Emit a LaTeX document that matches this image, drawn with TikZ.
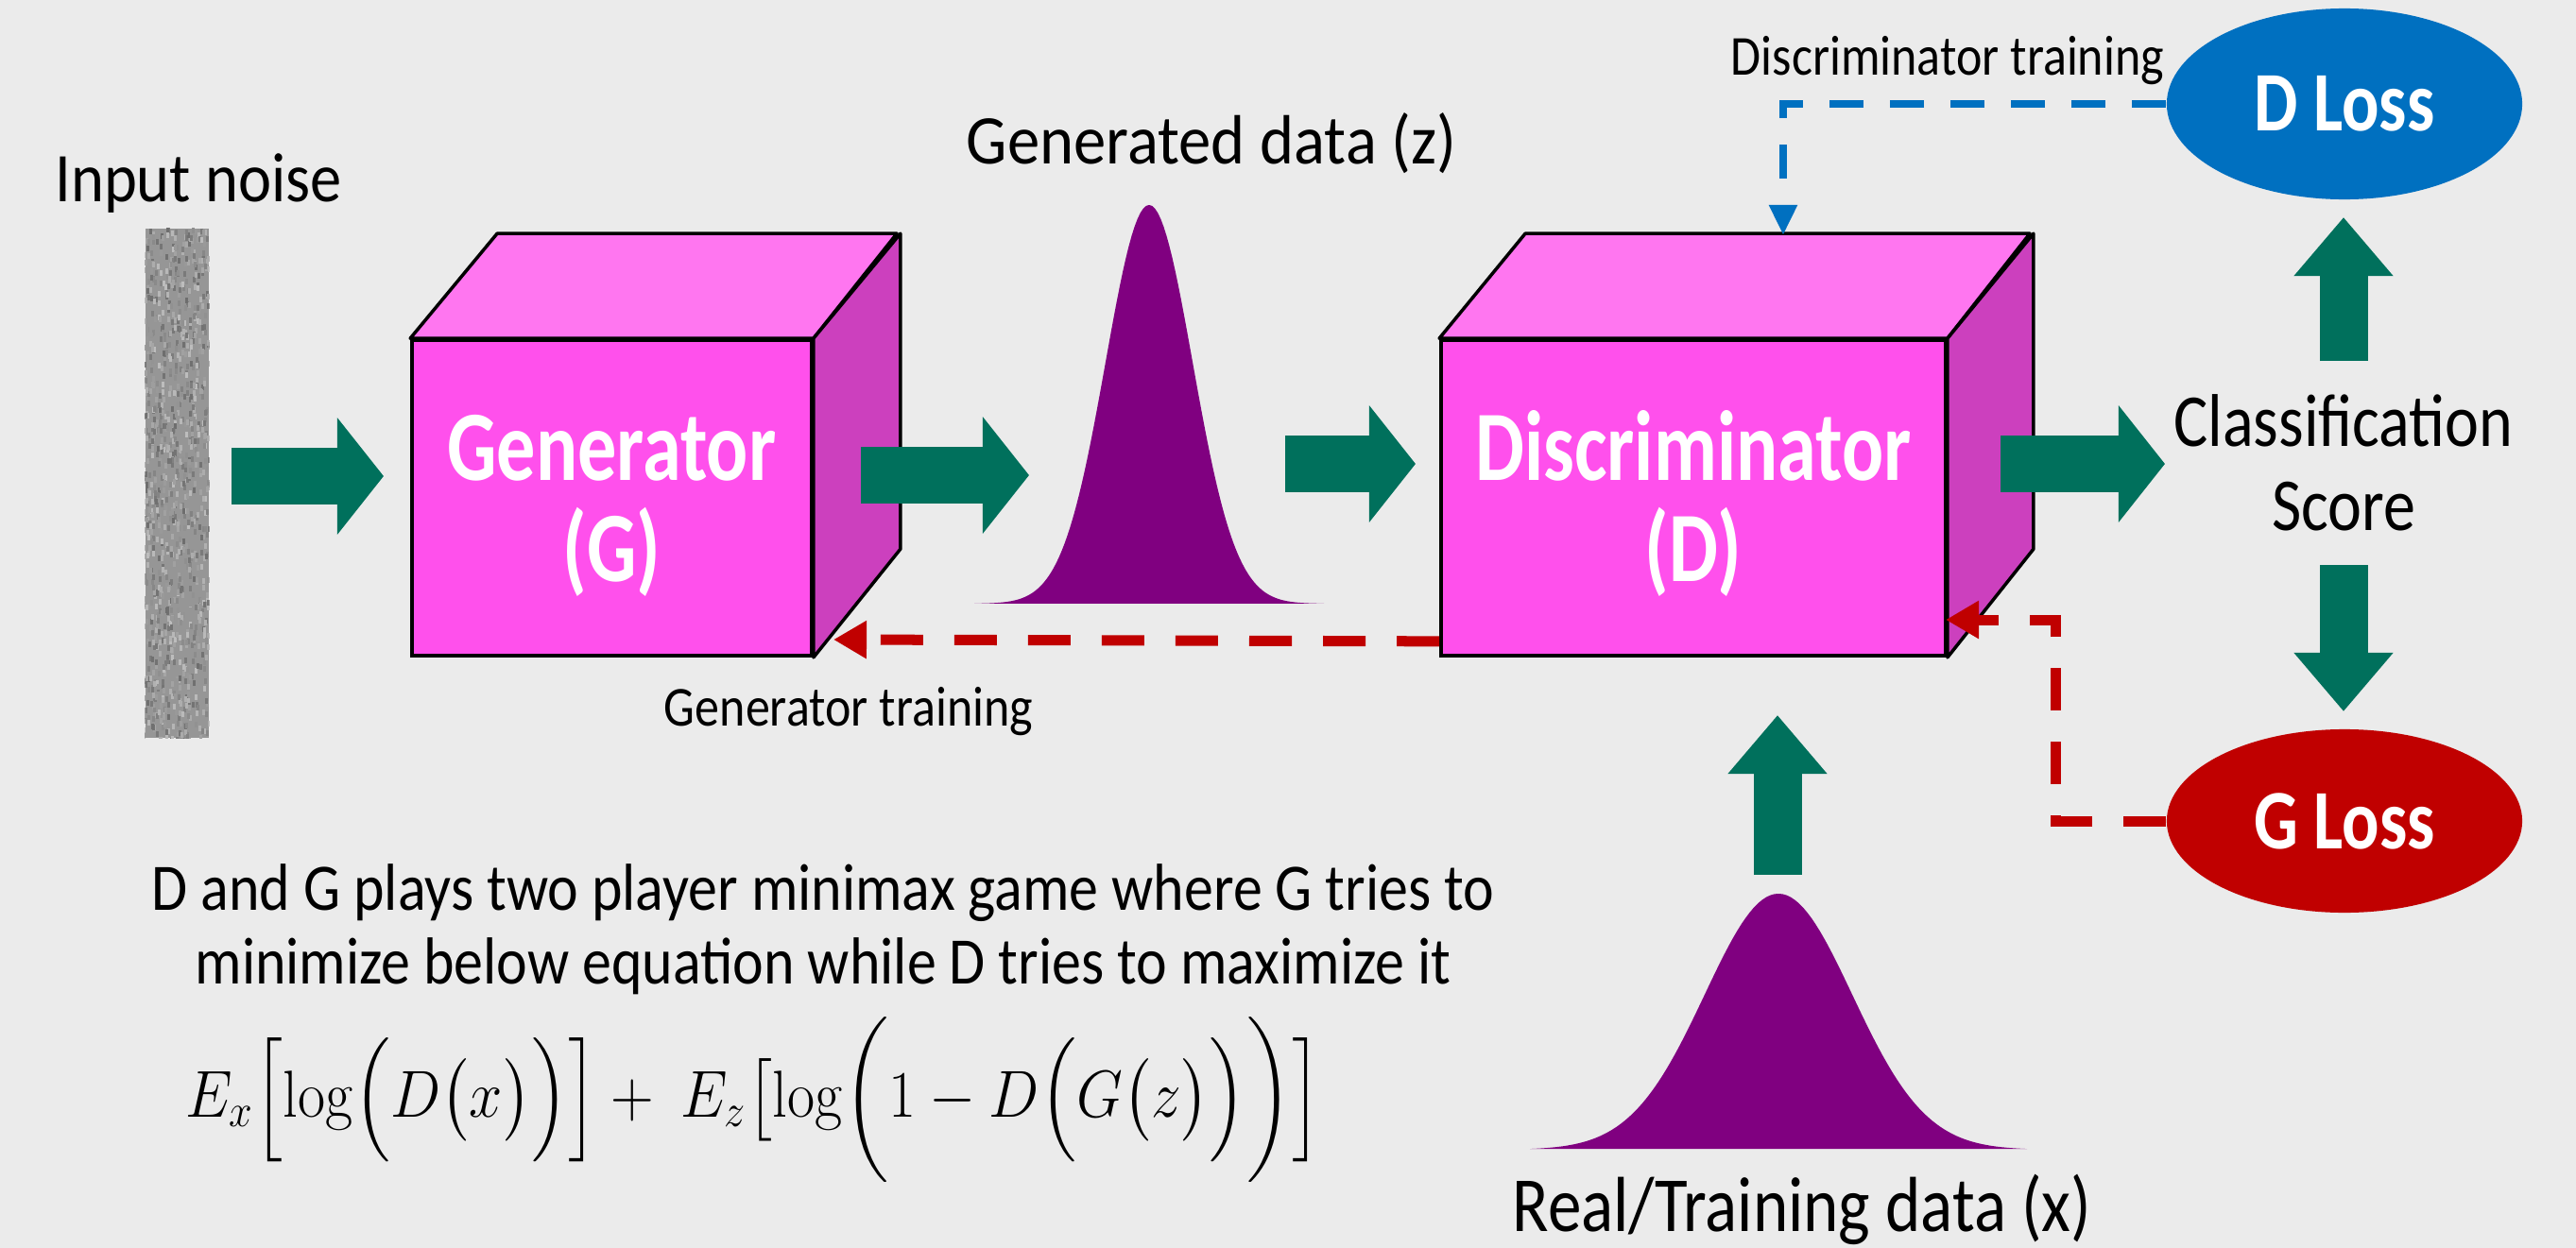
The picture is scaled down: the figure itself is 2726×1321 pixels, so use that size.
\RequirePackage{fix-cm}
\documentclass[tikz,border=0pt]{standalone}
\usepackage{amsmath}
\usepackage[no-math]{fontspec}
\setmainfont{Carlito}
\usetikzlibrary{arrows.meta,shapes.geometric,calc}
\definecolor{bgc}{RGB}{235,235,235}
\definecolor{cubefrontc}{RGB}{255,80,236}
\definecolor{cubetopc}{RGB}{255,118,240}
\definecolor{cubesidec}{RGB}{204,64,190}
\definecolor{arrgreen}{RGB}{0,112,92}
\definecolor{bellpurple}{RGB}{128,0,128}
\definecolor{lossblue}{RGB}{0,112,192}
\definecolor{lossred}{RGB}{192,0,0}
\definecolor{noisegray}{RGB}{150,150,150}
\newcommand{\cmx}[2]{\scalebox{#1}[1]{#2}}
\tikzset{
  lbl/.style={inner sep=0pt, text=black},
  whitelbl/.style={inner sep=0pt, text=white, font=\fontsize{30}{34}\selectfont\bfseries},
  garrow/.style={draw=arrgreen, line width=0.6cm, -{Triangle[length=0.49cm,width=1.21cm]}},
  vgarrow/.style={draw=arrgreen, line width=0.51cm, -{Triangle[length=0.62cm,width=1.01cm]}},
  cubefront/.style={draw=black, line width=0.035cm, fill=cubefrontc, inner sep=0pt},
  cubetop/.style={draw=black, line width=0.035cm, fill=cubetopc, line join=round},
  cubeside/.style={draw=black, line width=0.035cm, fill=cubesidec, line join=round},
  reddash/.style={draw=lossred, line width=0.11cm, dash pattern=on 0.45cm off 0.33cm, -{Triangle[length=0.35cm,width=0.38cm]}},
  bluedash/.style={draw=lossblue, line width=0.08cm, dash pattern=on 0.36cm off 0.28cm, -{Triangle[length=0.32cm,width=0.28cm]}},
  lossnode/.style={ellipse, minimum width=3.76cm, inner sep=0pt, text=white, font=\fontsize{25.5}{30}\selectfont\bfseries},
  noisebar/.style={fill=noisegray, inner sep=0pt, minimum width=0.67cm, minimum height=5.39cm}
}
\begin{document}
\begin{tikzpicture}[x=0.01cm,y=-0.01cm]
\useasboundingbox (0,0) rectangle (2726,1321);
\fill[bgc] (0,0) rectangle (2726,1321);

% noise bar
\node[noisebar] (noise) at (187.5,511.5) {};
\pgfmathsetseed{7}
\begin{scope}
  \clip (noise.south west) rectangle (noise.north east);
  \foreach \i in {1,...,1100}{
    \pgfmathsetmacro{\rx}{150+70*rnd}
    \pgfmathsetmacro{\ry}{240+545*rnd}
    \pgfmathtruncatemacro{\rg}{26+32*rnd}
    \fill[black!\rg] (\rx,\ry) rectangle ++(3,6);
  }
\end{scope}

% Generator cube
\node[cubefront, minimum width=4.23cm, minimum height=3.34cm] (G) at (647.5,527) {};
\filldraw[cubetop] (G.north west) -- ++(92,-111) -- ++(423,0) -- (G.north east) -- cycle;
\filldraw[cubeside] (G.north east) -- ++(92,-111) -- ++(0,334) -- (G.south east) -- cycle;
\node[whitelbl, anchor=base] (Gt1) at (647.5,508) {\cmx{0.78}{Generator}};
\node[whitelbl, anchor=base] (Gt2) at (647.5,615) {\cmx{0.78}{(G)}};

% Discriminator cube
\node[cubefront, minimum width=5.34cm, minimum height=3.34cm] (D) at (1792,527) {};
\filldraw[cubetop] (D.north west) -- ++(91,-111) -- ++(534,0) -- (D.north east) -- cycle;
\filldraw[cubeside] (D.north east) -- ++(91,-111) -- ++(0,334) -- (D.south east) -- cycle;
\node[whitelbl, anchor=base] (Dt1) at (1792,508) {\cmx{0.78}{Discriminator}};
\node[whitelbl, anchor=base] (Dt2) at (1792,615) {\cmx{0.78}{(D)}};

% bell curves
\fill[bellpurple] plot[domain=-185:185, samples=121] ({1216+\x},{639-422*exp(-0.5*(\x/46)*(\x/46))}) -- cycle;
\fill[bellpurple] plot[domain=-263:263, samples=121] ({1882+\x},{1217-271*exp(-0.5*(\x/78)*(\x/78))}) -- cycle;

% loss ellipses
\node[lossnode, fill=lossblue, minimum height=2.02cm] (DL) at (2481,110) {\cmx{0.82}{D Loss}};
\node[lossnode, fill=lossred, minimum height=1.94cm] (GL) at (2481,869) {\cmx{0.82}{G Loss}};

% green block arrows
\coordinate (a1s) at (245,504);  \coordinate (a1e) at (406,504);
\coordinate (a2s) at (911,503);  \coordinate (a2e) at (1089,503);
\coordinate (a3s) at (1360,491); \coordinate (a3e) at (1498,491);
\coordinate (a4s) at (2117,491); \coordinate (a4e) at (2291,491);
\coordinate (u1s) at (2480,382); \coordinate (u1e) at (2480,230);
\coordinate (d1s) at (2480,598); \coordinate (d1e) at (2480,753);
\coordinate (u2s) at (1881,926); \coordinate (u2e) at (1881,757);
\draw[garrow] (a1s) -- (a1e);
\draw[garrow] (a2s) -- (a2e);
\draw[garrow] (a3s) -- (a3e);
\draw[garrow] (a4s) -- (a4e);
\draw[vgarrow] (u1s) -- (u1e);
\draw[vgarrow] (d1s) -- (d1e);
\draw[vgarrow] (u2s) -- (u2e);

% dashed training paths
\coordinate (Dtop) at (1887,249);
\draw[bluedash] (DL.west) -| (Dtop);
\coordinate (Gin) at (882,677);
\draw[reddash] ($(D.south west)+(0,-17)$) -- (Gin);
\coordinate (Din) at (2059,656);
\draw[reddash] (GL.west) -| (2175,656) -- (Din);

% labels
\node[lbl, anchor=base, font=\fontsize{21}{25}\selectfont] (tnoise) at (210,213) {\cmx{0.9}{Input noise}};
\node[lbl, anchor=base, font=\fontsize{21}{25}\selectfont] (tgen) at (1282,173) {\cmx{0.93}{Generated data (z)}};
\node[lbl, anchor=base, font=\fontsize{17}{20}\selectfont] (tgt) at (898,768) {\cmx{0.87}{Generator training}};
\node[lbl, anchor=base, font=\fontsize{17}{20}\selectfont] (tdt) at (2061,79) {\cmx{0.87}{Discriminator training}};
\node[lbl, anchor=base, font=\fontsize{22.5}{26}\selectfont] (tcl) at (2480,472) {\cmx{0.86}{Classification}};
\node[lbl, anchor=base, font=\fontsize{22.5}{26}\selectfont] (tsc) at (2480,561) {\cmx{0.86}{Score}};
\node[lbl, anchor=base, font=\fontsize{23.5}{28}\selectfont] (treal) at (1907,1303) {\cmx{0.86}{Real/Training data (x)}};
\node[lbl, anchor=base, font=\fontsize{20}{24}\selectfont] (txt1) at (871,963) {\cmx{0.88}{D and G plays two player minimax game where G tries to}};
\node[lbl, anchor=base, font=\fontsize{20}{24}\selectfont] (txt2) at (871,1041) {\cmx{0.88}{minimize below equation while D tries to maximize it}};
\node[lbl, anchor=base west, font=\fontsize{20}{24}\selectfont, text height=0.66cm, text depth=0.45cm] (eq) at (196,1182)
  {\cmx{0.9}{$E_x\Bigl[\log\Bigl(D\bigl(x\bigr)\Bigr)\Bigr] +\ E_z\bigl[\log\biggl(1-D\Bigl(G\bigl(z\bigr)\Bigr)\biggr)\Bigr]$}};
\end{tikzpicture}
\end{document}
